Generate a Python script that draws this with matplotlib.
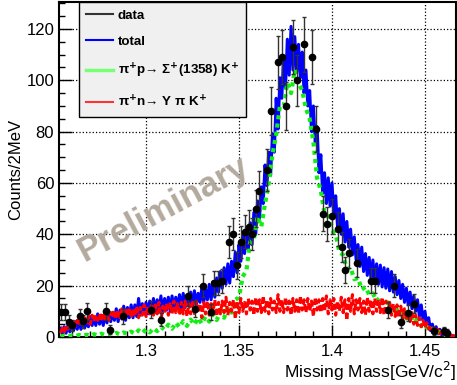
import numpy as np
import matplotlib.pyplot as plt

plt.rcParams['font.family'] = ['Liberation Sans', 'DejaVu Sans']

# data points (missing mass in GeV, counts per 2 MeV, error)
data_x = [1.2541, 1.2565, 1.2586, 1.2604, 1.2643, 1.2661, 1.2685, 1.2783, 1.2805, 1.2876,
          1.3025, 1.3079, 1.3227, 1.3263, 1.3308, 1.3348, 1.3367, 1.3389, 1.3407, 1.3447,
          1.3469, 1.3490, 1.3509, 1.3534, 1.3552, 1.3568, 1.3590, 1.3608, 1.3649, 1.3670,
          1.3711, 1.3733, 1.3751, 1.3792, 1.3810, 1.3851, 1.3892, 1.3914, 1.3953, 1.3971,
          1.3998, 1.4032, 1.4055, 1.4071, 1.4093, 1.4136, 1.4211, 1.4231, 1.4300, 1.4335,
          1.4371, 1.4410, 1.4443, 1.4550, 1.4603, 1.4617]
data_y = [9.9, 9.9, 6.0, 4.5, 8.0, 6.1, 10.0, 10.0, 2.8, 8.0,
          10.7, 6.8, 16.0, 11.0, 20.0, 9.6, 21.0, 21.0, 21.8, 37.0,
          40.0, 28.0, 37.0, 41.0, 43.0, 40.0, 50.0, 57.0, 65.0, 88.0,
          107.0, 109.0, 90.0, 113.0, 100.0, 114.0, 109.0, 81.0, 48.0, 44.0,
          47.0, 42.0, 35.0, 26.0, 32.6, 28.7, 22.0, 22.0, 10.5, 20.0,
          6.0, 9.5, 13.0, 2.3, 2.3, 1.7]
data_err = [3.1, 3.1, 2.4, 2.1, 2.8, 2.5, 3.2, 3.2, 1.7, 2.8,
            3.3, 2.6, 4.0, 3.3, 4.5, 3.1, 4.6, 4.6, 4.7, 6.1,
            6.3, 5.3, 6.1, 6.4, 6.6, 6.3, 7.1, 7.5, 8.1, 9.4,
            10.3, 10.4, 9.5, 10.6, 10.0, 10.7, 10.4, 9.0, 6.9, 6.6,
            6.9, 6.5, 5.9, 5.1, 5.7, 5.4, 4.7, 4.7, 3.2, 4.5,
            2.4, 3.1, 3.6, 1.5, 1.5, 1.3]

# total fit, 1 MeV steps from 1.254 to 1.466
total_y = [3.5, 1.0, 4.0, 1.5, 4.5, 2.0, 5.5, 2.5, 6.0, 3.0,
           6.5, 3.0, 7.0, 3.5, 6.5, 4.0, 8.0, 4.5, 7.5, 4.5,
           9.0, 5.0, 8.5, 4.5, 9.5, 5.5, 10.0, 6.0, 9.5, 6.5,
           11.0, 6.0, 10.5, 7.0, 12.0, 6.5, 11.5, 7.5, 12.5, 7.5,
           12.5, 8.0, 15.0, 8.5, 13.0, 9.0, 13.5, 9.0, 14.0, 9.5,
           15.0, 9.5, 14.5, 10.0, 16.0, 9.5, 15.0, 10.5, 15.5, 10.0,
           16.0, 10.5, 15.5, 11.0, 16.5, 11.0, 17.0, 11.5, 16.0, 12.0,
           17.5, 12.0, 18.0, 12.5, 17.0, 13.5, 19.0, 13.5, 18.5, 14.5,
           20.5, 14.5, 21.5, 15.5, 23.0, 17.5, 25.5, 19.0, 27.0, 20.5,
           28.5, 21.0, 29.5, 23.5, 33.0, 25.0, 36.0, 29.5, 39.5, 32.5,
           42.5, 34.0, 44.5, 36.0, 48.5, 40.0, 53.0, 46.0, 58.5, 52.0,
           67, 59, 72, 63, 79, 72, 93, 81, 101, 93,
           109, 97, 116, 102, 121, 104, 117, 103, 114, 101,
           111, 95, 104, 90, 96, 80, 90, 76, 82, 64,
           71, 56, 64, 52, 62, 51, 60, 48, 55, 43,
           50, 40, 48, 37, 45, 35, 42, 32, 39, 30,
           36, 27.5, 35, 25.5, 32.5, 24, 31, 22.5, 30, 21.5,
           28.5, 20.5, 28, 19.5, 27, 19, 26.5, 18, 25.5, 17.5,
           23.5, 16.5, 22, 15, 20.5, 13.5, 19, 12.5, 17.5, 11,
           16, 10, 14.5, 8, 12.5, 6.5, 10, 5, 7.5, 2.5,
           5.0, 2.0, 4.0, 1.2, 3.0, 0.8, 2.2, 0.5, 1.5, 0.3,
           0.8, 0.2, 0.4]

# pi+ p -> Sigma+(1385) K+, 2 MeV steps
sigma_y = [0.2, 0.5, 0.1, 0.6, 0.3, 0.8, 0.4, 0.9, 0.5, 1.1,
           0.6, 1.3, 0.7, 1.4, 0.8, 1.6, 1.0, 1.8, 1.1, 2.1,
           1.2, 2.6, 1.5, 3.0, 1.8, 3.4, 2.3, 4.0, 2.8, 4.8,
           3.2, 5.6, 3.8, 6.2, 4.3, 6.8, 4.8, 7.4, 5.2, 8.0,
           6.0, 8.8, 6.6, 10.0, 7.5, 11.8, 9.5, 14.5, 15.5, 23.5,
           26, 37, 38, 47, 43, 52, 60, 71, 79, 90,
           90, 99, 95, 104, 99, 96, 89, 85, 76, 62,
           57, 48, 47, 41.5, 40, 33, 32, 26.5, 27, 22.5,
           23, 18.5, 19.5, 16.5, 17, 14, 15.5, 12.5, 13.5, 11,
           12, 8.8, 9.8, 7.2, 8.5, 5.6, 6.8, 4.2, 5.0, 2.6,
           3.2, 1.4, 2.0, 0.6, 1.0, 0.2, 0.3]

# pi+ n -> Y pi K+, 1 MeV steps
ypik_y = [1.5, 3.5, 2.0, 4.5, 3.0, 5.0, 3.5, 6.0, 4.0, 6.5,
          4.5, 7.0, 5.0, 7.5, 5.5, 8.0, 5.0, 8.5, 6.0, 8.5,
          6.5, 9.0, 6.0, 9.5, 7.0, 10.0, 6.5, 9.5, 7.5, 10.5,
          7.0, 10.5, 7.5, 11.0, 6.5, 10.5, 8.0, 11.5, 7.5, 11.0,
          8.0, 12.0, 7.5, 11.5, 8.5, 12.5, 8.0, 12.0, 9.0, 13.0,
          8.5, 12.5, 9.0, 13.5, 6.0, 12.0, 9.5, 13.0, 8.5, 13.5,
          9.0, 14.0, 9.5, 13.0, 8.5, 13.5, 9.0, 14.0, 8.0, 13.0,
          9.0, 13.5, 8.5, 14.0, 9.5, 13.0, 7.5, 13.5, 9.0, 14.0,
          8.5, 13.0, 9.5, 14.5, 8.0, 13.5, 9.0, 14.0, 9.5, 15.5,
          8.5, 13.5, 10.0, 14.5, 7.0, 14.0, 9.5, 15.0, 10.0, 13.5,
          9.0, 15.0, 10.5, 14.0, 8.5, 15.5, 10.0, 14.5, 9.5, 16.0,
          10.0, 14.5, 9.0, 15.0, 10.5, 14.0, 9.5, 16.5, 10.0, 14.5,
          9.5, 15.5, 10.5, 14.0, 8.5, 15.0, 10.0, 14.5, 9.0, 16.0,
          10.5, 14.5, 9.5, 15.0, 10.0, 14.0, 8.0, 15.5, 10.5, 14.5,
          9.5, 15.0, 10.0, 16.0, 9.0, 14.5, 10.5, 15.0, 8.5, 14.0,
          10.0, 15.5, 9.5, 14.5, 6.5, 15.0, 10.0, 16.5, 9.0, 14.5,
          10.5, 15.0, 9.5, 14.0, 8.5, 15.5, 10.0, 14.5, 9.0, 15.0,
          10.0, 14.5, 9.5, 15.5, 8.5, 14.0, 9.0, 13.5, 8.5, 13.0,
          8.0, 12.5, 7.5, 12.0, 7.0, 11.0, 6.5, 10.0, 6.0, 9.5,
          5.0, 8.5, 4.5, 7.5, 4.0, 6.5, 3.5, 5.5, 3.0, 4.5,
          2.5, 3.5, 1.8, 3.0, 1.2, 2.2, 0.8, 1.5, 0.5, 1.0,
          0.3, 0.6, 0.2]

x_fine = np.linspace(1.254, 1.466, len(total_y))
x_red = np.linspace(1.254, 1.466, len(ypik_y))
x_green = np.linspace(1.254, 1.466, len(sigma_y))

fig = plt.figure(figsize=(4.57, 3.85), dpi=100)
ax = fig.add_axes([59 / 457, 48 / 385, 397 / 457, 335 / 385])

ax.plot(x_fine, total_y, color='#0000ff', lw=2.2, zorder=2)
ax.plot(x_green, sigma_y, color='#11ee11', lw=3.0, ls=(0, (1, 1)), zorder=3)
ax.plot(x_red, ypik_y, color='#ff0000', lw=2.2, ls=(0, (2, 1)), zorder=4)
ax.errorbar(data_x, data_y, yerr=data_err, fmt='o', color='black', ms=4.5,
            ecolor='#333333', elinewidth=1.0, capsize=1.5, capthick=1.0, zorder=5)

# legend handles as lines (ROOT style)
h_data, = ax.plot([], [], color='#333333', lw=1.5)
h_tot, = ax.plot([], [], color='#0000ff', lw=1.5)
h_sig, = ax.plot([], [], color='#77ff77', lw=2.5)
h_red, = ax.plot([], [], color='#ff3333', lw=1.5)
leg = ax.legend([h_data, h_tot, h_sig, h_red],
                ['data', 'total',
                 r'π$^{\mathbf{+}}$p→ Σ$^{\mathbf{+}}$(1358) K$^{\mathbf{+}}$',
                 r'π$^{\mathbf{+}}$n→ Y π K$^{\mathbf{+}}$'],
                loc='upper left', bbox_to_anchor=(0.0504, 1.0), fancybox=False,
                framealpha=1.0, facecolor='#f0f0f0', edgecolor='black',
                prop={'weight': 'bold', 'size': 9.6}, handlelength=2.0,
                labelspacing=1.05, borderpad=0.55, handletextpad=0.35,
                borderaxespad=0)
leg.get_frame().set_linewidth(1.0)
leg.set_zorder(10)

# watermark
ax.text(0.262, 0.382, 'Preliminary', transform=ax.transAxes, rotation=28,
        ha='center', va='center', fontsize=25, fontweight='bold',
        color='#b3a99d', zorder=1)

ax.set_xlim(1.2532, 1.4667)
ax.set_ylim(0, 130.5)
ax.set_xticks([1.3, 1.35, 1.4, 1.45])
ax.set_xticklabels(['1.3', '1.35', '1.4', '1.45'])
ax.set_yticks([0, 20, 40, 60, 80, 100, 120])
ax.set_xticks(np.arange(1.26, 1.466, 0.01), minor=True)
ax.set_yticks(np.arange(0, 131, 5), minor=True)
ax.tick_params(which='both', direction='in', labelsize=12)
ax.tick_params(which='major', length=9, width=1.0)
ax.tick_params(which='minor', length=4.5, width=1.0)
ax.tick_params(axis='x', pad=5)
for s in ax.spines.values():
    s.set_linewidth(1.5)

ax.grid(True, which='major', ls=':', color='black', lw=0.9)
ax.set_axisbelow(True)

ax.set_xlabel('Missing Mass[GeV/c$^{2}$]', fontsize=12.5, loc='right', labelpad=1)
ax.set_ylabel('Counts/2MeV', fontsize=12, labelpad=2)

fig.savefig('out.png', dpi=100)
